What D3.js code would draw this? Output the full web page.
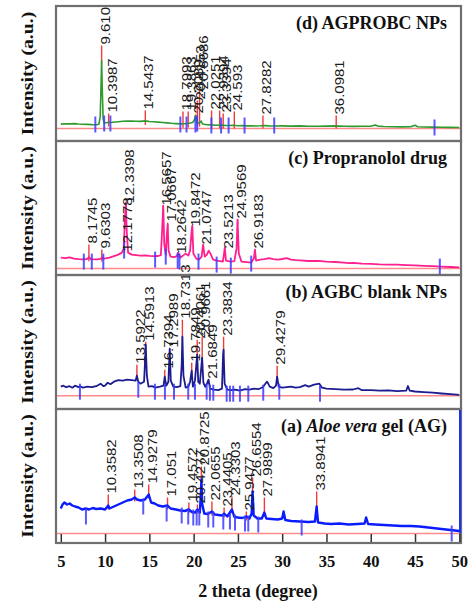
<!DOCTYPE html>
<html>
<head>
<meta charset="utf-8">
<script src="https://cdn.jsdelivr.net/npm/d3@7"></script>
<style>
  body { margin: 0; background: #fff; }
  svg { display: block; }
</style>
</head>
<body>
<div id="chart"></div>
<script>
// x axis (2 theta, degree)
const xTicks = [5, 10, 15, 20, 25, 30, 35, 40, 45, 50];

// ---------- (d) AGPROBC NPs ----------
const dPattern = [[5,4.4],[5.5,4.8],[6,4.6],[6.5,4.9],[7,4.5],[7.5,4.3],[8,4.1],[8.5,3.9],[9,3.8],[9.3,4.2],[9.45,12],[9.55,45],[9.61,68],[9.68,40],[9.78,10],[9.9,5.5],[10.3,6],[10.8,6.2],[11.5,6.8],[12,7.2],[12.5,7.4],[13,7.5],[13.5,7.3],[14,7.1],[14.5,7.6],[15,7],[15.5,6.8],[16,6.4],[16.5,6],[17,5.6],[17.5,5.2],[18,4.9],[18.5,4.6],[19,4.8],[19.5,5.2],[19.9,6],[20.1,9],[20.21,13],[20.35,7],[20.5,5.5],[20.7,6],[20.85,7.5],[21,4.5],[21.5,3.8],[22,3.6],[22.5,3.3],[23,3.4],[23.5,3.1],[24,3],[24.5,3.2],[25,2.8],[25.5,2.9],[26,2.6],[26.5,2.8],[27,2.5],[27.5,2.7],[28,3],[28.5,2.6],[29,2.5],[30,2.6],[31,2.4],[32,2.6],[33,2.3],[34,2.2],[35,2.4],[36,2.6],[37,2.2],[38,2.1],[39,2.2],[40,2.3],[40.5,3.6],[40.8,2.4],[41.5,2],[42.5,1.8],[43.5,1.6],[44.5,1.8],[45,3.2],[45.3,1.8],[46,1.5],[47,1.4],[48,1.2],[49,1.1],[50,1]];
const dLabels = ["9.610","10.3987","14.5437","18.7993","19.3863","20.2089","20.4153","20.6686","22.0251","22.9394","23.3394","24.593","27.8282","36.0981"];
const dTops = [83, 15, 18, 17, 17, 14, 28, 38, 18, 18, 15, 17, 13, 13];
const dRefPos = [8.9, 9.9, 10.6, 18.5, 19.2, 20.2, 20.4, 22.0, 23.1, 23.95, 25.75, 29.1, 47.2];
const dRefLevel = [4, 5, 5, 4, 4, 4, 5, 3, 3, 3, 3, 3, 1];

// ---------- (c) Propranolol drug ----------
const cPattern = [[5,11],[5.5,10.5],[6,11.2],[6.5,10],[7,9.5],[7.5,9.2],[8,9.6],[8.17,11.5],[8.4,9.5],[9,9.2],[9.5,9.8],[9.63,11],[9.9,10],[10.5,11],[11,12.5],[11.5,14],[11.9,16],[12.1,20],[12.22,45],[12.34,66],[12.46,35],[12.6,16],[13,14],[13.5,13.5],[14,13],[14.5,13.2],[15,12.8],[15.5,12.5],[16,12.6],[16.3,13.5],[16.45,40],[16.57,63],[16.68,25],[16.85,14],[16.98,35],[17.07,44],[17.17,18],[17.4,12],[17.8,11.5],[18.1,12.5],[18.26,16],[18.5,11],[18.8,13],[19.1,15],[19.4,13],[19.6,18],[19.76,36],[19.85,43],[19.97,15],[20.3,10],[20.6,9],[20.9,12],[21.07,24],[21.25,12],[21.5,14],[21.7,18],[21.9,15],[22.2,9],[22.6,8],[23,7.5],[23.3,7],[23.42,14],[23.52,21],[23.65,8],[24.2,7],[24.6,7.5],[24.85,20],[24.96,49],[25.1,15],[25.4,7],[26,6.5],[26.5,6],[26.8,10],[26.92,19],[27.05,8],[27.5,9],[28,9.5],[28.5,10.5],[29,9.5],[29.5,9],[30,9.6],[30.5,10.5],[31,9],[31.5,8.5],[32,8.2],[33,7.6],[34,7.8],[35,7],[36,6.6],[37,6],[37.5,5.5],[38,5.8],[39,5],[40,4.8],[41,4.3],[42,4],[43,3.9],[44,3.5],[45,3.2],[46,2.8],[47,2.4],[48,2],[49,1.6],[50,1.2]];
const cLabels = ["8.1745","9.6303","12.1778","12.3398","16.5657","17.0667","18.2642","19.8472","21.0747","23.5213","24.9569","26.9183"];
const cTops = [24, 19, 16, 64, 62, 46, 14, 41, 23, 19, 49, 19];
const cRefPos = [7.6, 8.5, 9.8, 12.15, 15.65, 16.85, 18.2, 18.4, 20.55, 22.6, 24.2, 26.5, 47.8];
const cRefLevel = [7, 7, 7, 18, 9, 12, 8, 7, 7, 4, 3, 5, 2];

// ---------- (b) AGBC blank NPs ----------
const bPattern = [[5,9],[5.3,10],[5.6,8.5],[6,9.5],[6.3,8],[6.6,10],[7,8.5],[7.2,9.5],[7.5,8],[8,9],[8.5,8.5],[9,9.5],[9.5,12],[9.8,9.5],[10,10],[10.3,13],[10.6,11.5],[11,14],[11.5,15.5],[12,15],[12.5,16],[13,15.5],[13.45,15],[13.59,20],[13.75,14],[14,12],[14.4,14],[14.52,35],[14.59,51],[14.72,20],[14.9,9],[15.3,9.5],[15.7,8],[16.2,9],[16.6,10],[16.74,19],[16.9,10],[17.15,14],[17.3,47],[17.42,15],[17.7,9],[18.1,8.5],[18.5,9.5],[18.65,30],[18.73,59],[18.85,20],[19.1,8],[19.4,9],[19.6,14],[19.78,25],[19.92,9],[20.15,15],[20.4,41],[20.52,14],[20.7,12],[20.96,38],[21.1,13],[21.3,9],[21.5,12],[21.68,16],[21.85,7],[22.3,6],[22.8,5.5],[23.2,7],[23.32,40],[23.38,46],[23.5,12],[23.8,6],[24.2,5.5],[24.7,6],[25.2,5],[25.8,6.5],[26.3,6],[26.8,7],[27.3,6.5],[27.8,8.5],[28.1,12],[28.3,14],[28.6,9],[29,7.5],[29.3,10],[29.43,19],[29.6,9],[30,8],[30.5,8.5],[31,9],[31.5,8],[32,8.5],[32.6,10.5],[33,9],[33.6,11],[34.2,12],[34.5,8],[35,7],[36,6.5],[37,6],[38,6.2],[38.6,7.5],[39,5.5],[40,5.5],[41,5],[42,5.3],[43,4.5],[44,5],[44.2,9.7],[44.4,5],[45,4.2],[46,3.6],[47,3],[48,2.2],[49,1.5],[50,0.8]];
const bLabels = ["13.5922","14.5913","16.7394","17.2989","18.7313","19.7849","20.4061","20.9661","21.6849","23.3834","29.4279"];
const bTops = [31, 54, 26, 47, 76, 33, 56, 59, 16, 59, 30];
const bRefPos = [7.16, 13.75, 15.63, 16.76, 17.78, 19.39, 20.15, 21.47, 21.84, 22.22, 23.73, 24.1, 24.47, 25.23, 26.17, 27.86, 29.67, 34.27];
const bRefLevel = [4, 6, 4, 4, 4, 4, 4, 4, 3, 3, 2, 2, 2, 2, 2, 3, 4, 2];

// ---------- (a) Aloe vera gel (AG) ----------
const aPattern = [[5,25],[5.2,29],[5.4,31],[5.7,29],[6,30],[6.3,28],[6.6,27],[7,26],[7.4,24],[7.8,25],[8.2,24],[8.6,25.5],[9,24.5],[9.5,25],[10,24],[10.36,28],[10.5,25],[11,27],[11.5,29],[12,31],[12.5,33],[13,34],[13.35,36],[13.6,34],[14,33],[14.5,34],[14.93,39],[15.2,31],[15.6,30],[16,28],[16.5,27],[17.05,28],[17.4,25],[18,24],[18.5,23],[19,22.5],[19.46,24],[19.8,21.5],[20.2,21],[20.43,24],[20.7,21],[20.82,40],[20.88,54],[20.96,30],[21.2,20],[21.6,19.5],[22.07,22],[22.4,19],[22.8,18.5],[23.2,18],[23.44,20],[23.8,17],[24.33,24],[24.6,16.5],[25,16],[25.5,15.5],[25.95,17],[26.3,15],[26.55,20],[26.65,42],[26.78,18],[27.2,15],[27.7,15],[27.99,21],[28.2,15],[28.8,14.5],[29.5,14],[30,15],[30.16,22],[30.35,13.5],[31,12.5],[32,12],[33,11.5],[33.7,12],[33.89,27],[34.05,11],[34.8,10],[35.5,9.5],[36.5,10],[37.5,9],[38.5,9.5],[39.3,10],[39.48,16],[39.7,9.5],[40.5,9],[41.5,8.5],[42.5,8],[43.5,7.5],[44.5,7.5],[45.5,7],[46.5,6],[47.5,5],[48.5,4],[49.5,3],[50,2.5]];
const aLabels = ["10.3582","13.3508","14.9279","17.051","19.4572","20.4277","20.8725","22.0655","23.4405","24.3303","25.9477","26.6554","27.9899","33.8941"];
const aTops = [39, 44, 49, 36, 31, 29, 67, 32, 26, 37, 22, 56, 36, 42];
const aRefPos = [7.84, 14.31, 16.95, 18.65, 19.39, 19.96, 20.34, 20.64, 21.65, 22.22, 23.35, 24.1, 24.67, 25.8, 26.17, 27.3, 32.2, 49.14];
const aRefLevel = [17, 27, 20, 18, 17, 16, 16, 16, 14, 14, 12, 12, 11, 10, 10, 9, 6, 0];

// value of a pattern at a given angle (used only to end the red sticks at the curve)
function patternAt(pattern, x) {
  const i = d3.bisector((d) => d[0]).left(pattern, x);
  if (i <= 0) return pattern[0][1];
  if (i >= pattern.length) return pattern[pattern.length - 1][1];
  const a = pattern[i - 1];
  const b = pattern[i];
  return a[1] + ((b[1] - a[1]) * (x - a[0])) / (b[0] - a[0]);
}

function drawXrd(id) {
  const w = 469;
  const h = 605;
  const frameLeft = 56;
  const frameRight = 461;
  const serif = "'Liberation Serif', 'Times New Roman', serif";
  const sans = "'Liberation Sans', Arial, sans-serif";

  const svg = d3
    .select(`#${id}`)
    .append("svg")
    .attr("width", w)
    .attr("height", h);

  const xScale = d3.scaleLinear().domain([5, 50]).range([60.8, 459.3]);

  // panels from top to bottom: box edges and red baseline position
  const panels = [
    { top: 6, bottom: 141, base: 128.5, color: "#2f9a2f", width: 1.6,
      title: [["(d) AGPROBC NPs", "normal"]],
      pattern: dPattern, labels: dLabels, tops: dTops, refPos: dRefPos, refLevel: dRefLevel },
    { top: 141, bottom: 275, base: 268.6, color: "#ff1f8e", width: 1.8,
      title: [["(c) Propranolol drug", "normal"]],
      pattern: cPattern, labels: cLabels, tops: cTops, refPos: cRefPos, refLevel: cRefLevel },
    { top: 275, bottom: 409, base: 395.7, color: "#1c1c90", width: 1.8,
      title: [["(b) AGBC blank NPs", "normal"]],
      pattern: bPattern, labels: bLabels, tops: bTops, refPos: bRefPos, refLevel: bRefLevel },
    { top: 409, bottom: 543, base: 533.5, color: "#0a1cff", width: 2.4,
      title: [["(a) ", "normal"], ["Aloe vera", "italic"], [" gel (AG)", "normal"]],
      pattern: aPattern, labels: aLabels, tops: aTops, refPos: aRefPos, refLevel: aRefLevel },
  ];

  panels.forEach((p, k) => {
    const yScale = d3.scaleLinear().domain([0, 100]).range([p.base, p.base - 100]);
    const g = svg.append("g").attr("class", "panel");

    // red zero line
    g.append("line")
      .attr("x1", frameLeft + 1)
      .attr("x2", frameRight - 1)
      .attr("y1", yScale(0))
      .attr("y2", yScale(0))
      .attr("stroke", "#ff8a8a")
      .attr("stroke-width", 1.5);

    // red peak sticks, from the label down to just under the curve
    g.selectAll(".stick")
      .data(p.labels)
      .enter()
      .append("line")
      .attr("class", "stick")
      .attr("x1", (d) => xScale(+d))
      .attr("x2", (d) => xScale(+d))
      .attr("y1", (d, i) => yScale(p.tops[i]))
      .attr("y2", (d) => yScale(Math.max(0, patternAt(p.pattern, +d) - 4)))
      .attr("stroke", "#f03a3a")
      .attr("stroke-width", 1.4);

    // diffraction pattern
    const line = d3
      .line()
      .x((d) => xScale(d[0]))
      .y((d) => yScale(d[1]));
    g.append("path")
      .datum(p.pattern)
      .attr("fill", "none")
      .attr("stroke", p.color)
      .attr("stroke-width", p.width)
      .attr("stroke-linejoin", "round")
      .attr("d", line);

    // blue reference marks
    g.selectAll(".ref")
      .data(p.refPos)
      .enter()
      .append("line")
      .attr("class", "ref")
      .attr("x1", (d) => xScale(d))
      .attr("x2", (d) => xScale(d))
      .attr("y1", (d, i) => yScale(p.refLevel[i] + 8))
      .attr("y2", (d, i) => yScale(p.refLevel[i] - 8))
      .attr("stroke", "#3c3cff")
      .attr("stroke-opacity", 0.85)
      .attr("stroke-width", 2);

    // rotated peak labels
    g.selectAll(".plabel")
      .data(p.labels)
      .enter()
      .append("text")
      .attr("class", "plabel")
      .attr("transform", (d, i) =>
        `translate(${xScale(+d) + 8},${yScale(p.tops[i]) - 1}) rotate(-90) scale(1.2,1)`)
      .attr("font-family", sans)
      .attr("font-size", 12.5)
      .attr("fill", "#1a1a1a")
      .text((d) => d);

    // frame
    g.append("rect")
      .attr("x", frameLeft)
      .attr("y", p.top)
      .attr("width", frameRight - frameLeft)
      .attr("height", p.bottom - p.top)
      .attr("fill", "none")
      .attr("stroke", "#6f6f6f")
      .attr("stroke-width", 2.2);

    // panel title
    const t = g.append("text")
      .attr("x", 447)
      .attr("y", p.top + 23)
      .attr("text-anchor", "end")
      .attr("font-family", serif)
      .attr("font-weight", "bold")
      .attr("font-size", 18)
      .attr("fill", "#111");
    p.title.forEach(([s, st]) => t.append("tspan").attr("font-style", st).text(s));

    // y title
    g.append("text")
      .attr("transform", `translate(33,${(p.top + p.bottom) / 2}) rotate(-90) scale(1.2,1)`)
      .attr("text-anchor", "middle")
      .attr("font-family", serif)
      .attr("font-weight", "bold")
      .attr("font-size", 16.5)
      .attr("fill", "#111")
      .text("Intensity (a.u.)");

    // bottom panel: x axis ticks inside and the blue edge of the scan
    if (k === panels.length - 1) {
      g.append("line")
        .attr("x1", frameRight - 1)
        .attr("x2", frameRight - 1)
        .attr("y1", p.top + 1)
        .attr("y2", yScale(0))
        .attr("stroke", "#1530ff")
        .attr("stroke-width", 2);

      const axis = g.append("g")
        .attr("transform", `translate(0,${p.bottom - 1})`)
        .call(d3.axisBottom(xScale).tickValues(xTicks).tickSize(-8).tickPadding(13).tickFormat(d3.format("d")));
      axis.select(".domain").remove();
      axis.selectAll(".tick line").attr("stroke", "#333").attr("stroke-width", 1.5);
      axis.selectAll(".tick text")
        .attr("font-family", serif)
        .attr("font-weight", "bold")
        .attr("font-size", 16.5)
        .attr("fill", "#111");
    }
  });

  // x title
  svg.append("text")
    .attr("x", 258)
    .attr("y", 597)
    .attr("text-anchor", "middle")
    .attr("font-family", serif)
    .attr("font-weight", "bold")
    .attr("font-size", 18)
    .attr("fill", "#111")
    .text("2 theta (degree)");
}

document.addEventListener("DOMContentLoaded", function () {
  drawXrd("chart");
});
</script>
</body>
</html>
